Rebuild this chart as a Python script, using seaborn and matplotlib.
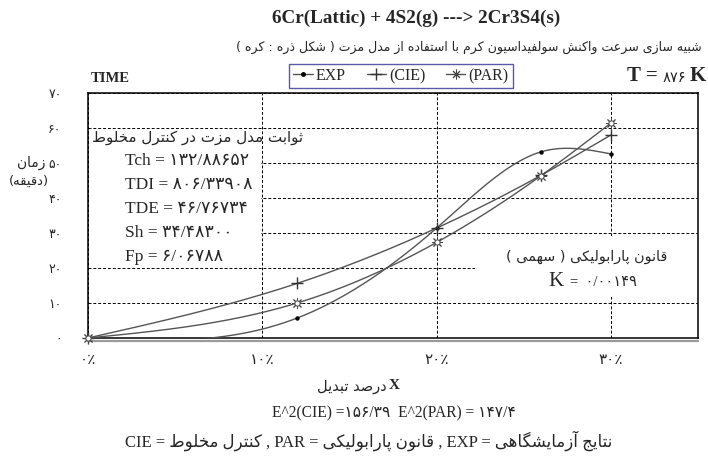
import numpy as np
import pandas as pd
import matplotlib
matplotlib.use("Agg")
import matplotlib.pyplot as plt
import seaborn as sns
from matplotlib.lines import Line2D
from matplotlib.patches import Rectangle

# ---------------- data ----------------
conv_pct = [0, 12, 20, 26, 30]                 # X  (conversion, %)
time_exp = [0, 5.7, 31.4, 53.2, 52.6]          # EXP  (minutes)
time_cie = [0, 15.6, 31.4, 46.5, 58.0]         # CIE  (minutes)
time_par = [0, 10.0, 27.3, 46.4, 61.4]         # PAR  (minutes)

y_ticks = [0, 10, 20, 30, 40, 50, 60, 70]
y_tick_labels = ["۰", "۱۰", "۲۰", "۳۰", "۴۰", "۵۰", "۶۰", "۷۰"]
x_ticks = [0, 10, 20, 30]
x_tick_labels = ["۰٪", "۱۰٪", "۲۰٪", "۳۰٪"]

mezat_names = ["Tch", "TDI", "TDE", "Sh", "Fp"]
mezat_values = ["۱۳۲/۸۸۶۵۲", "۸۰۶/۳۳۹۰۸", "۴۶/۷۶۷۳۴", "۳۴/۴۸۳۰۰", "۶/۰۶۷۸۸"]
k_value = "۰/۰۰۱۴۹"
temperature = "۸۷۶"
e2_cie = "۱۵۶/۳۹"
e2_par = "۱۴۷/۴"

title_txt = "6Cr(Lattic) + 4S2(g) ---> 2Cr3S4(s)"
subtitle_fa = "شبیه سازی سرعت واکنش سولفیداسیون کرم با استفاده از مدل مزت ( شکل ذره : کره )"
box_title_fa = "ثوابت مدل مزت در کنترل مخلوط"
par_title_fa = "قانون پارابولیکی ( سهمی )"
ylabel_fa = ["زمان", "(دقیقه)"]
xlabel_fa = "درصد تبدیل"
legend_fa = {"CIE": "کنترل مخلوط", "PAR": "قانون پارابولیکی", "EXP": "نتایج آزمایشگاهی"}

# ---------------- minimal Persian shaping (presentation forms) ----------------
FORMS = {
    "ا": (0xFE8D, 0xFE8E, None, None), "آ": (0xFE81, 0xFE82, None, None),
    "ب": (0xFE8F, 0xFE90, 0xFE91, 0xFE92), "پ": (0xFB56, 0xFB57, 0xFB58, 0xFB59),
    "ت": (0xFE95, 0xFE96, 0xFE97, 0xFE98), "ث": (0xFE99, 0xFE9A, 0xFE9B, 0xFE9C),
    "ج": (0xFE9D, 0xFE9E, 0xFE9F, 0xFEA0), "چ": (0xFB7A, 0xFB7B, 0xFB7C, 0xFB7D),
    "ح": (0xFEA1, 0xFEA2, 0xFEA3, 0xFEA4), "خ": (0xFEA5, 0xFEA6, 0xFEA7, 0xFEA8),
    "د": (0xFEA9, 0xFEAA, None, None), "ذ": (0xFEAB, 0xFEAC, None, None),
    "ر": (0xFEAD, 0xFEAE, None, None), "ز": (0xFEAF, 0xFEB0, None, None),
    "ژ": (0xFB8A, 0xFB8B, None, None),
    "س": (0xFEB1, 0xFEB2, 0xFEB3, 0xFEB4), "ش": (0xFEB5, 0xFEB6, 0xFEB7, 0xFEB8),
    "ص": (0xFEB9, 0xFEBA, 0xFEBB, 0xFEBC), "ض": (0xFEBD, 0xFEBE, 0xFEBF, 0xFEC0),
    "ط": (0xFEC1, 0xFEC2, 0xFEC3, 0xFEC4), "ظ": (0xFEC5, 0xFEC6, 0xFEC7, 0xFEC8),
    "ع": (0xFEC9, 0xFECA, 0xFECB, 0xFECC), "غ": (0xFECD, 0xFECE, 0xFECF, 0xFED0),
    "ف": (0xFED1, 0xFED2, 0xFED3, 0xFED4), "ق": (0xFED5, 0xFED6, 0xFED7, 0xFED8),
    "ک": (0xFB8E, 0xFB8F, 0xFB90, 0xFB91), "گ": (0xFB92, 0xFB93, 0xFB94, 0xFB95),
    "ل": (0xFEDD, 0xFEDE, 0xFEDF, 0xFEE0), "م": (0xFEE1, 0xFEE2, 0xFEE3, 0xFEE4),
    "ن": (0xFEE5, 0xFEE6, 0xFEE7, 0xFEE8), "و": (0xFEED, 0xFEEE, None, None),
    "ه": (0xFEE9, 0xFEEA, 0xFEEB, 0xFEEC), "ی": (0xFBFC, 0xFBFD, 0xFBFE, 0xFBFF),
}
MIRROR = {"(": ")", ")": "("}


def fa(s):
    out = []
    for i, c in enumerate(s):
        if c not in FORMS:
            out.append(c)
            continue
        prev = s[i - 1] if i > 0 else ""
        nxt = s[i + 1] if i + 1 < len(s) else ""
        jp = prev in FORMS and FORMS[prev][2] is not None
        jn = FORMS[c][2] is not None and nxt in FORMS
        iso, fin, ini, med = FORMS[c]
        g = med if (jp and jn) else fin if jp else ini if jn else iso
        out.append(chr(g))
    return "".join(MIRROR.get(c, c) for c in reversed(out))


def smooth(x, y, n=300):
    x = np.asarray(x, float); y = np.asarray(y, float)
    k = len(x); h = np.diff(x)
    A = np.zeros((k, k)); b = np.zeros(k)
    A[0, 0] = A[-1, -1] = 1
    for i in range(1, k - 1):
        A[i, i - 1] = h[i - 1]; A[i, i] = 2 * (h[i - 1] + h[i]); A[i, i + 1] = h[i]
        b[i] = 3 * ((y[i + 1] - y[i]) / h[i] - (y[i] - y[i - 1]) / h[i - 1])
    c = np.linalg.solve(A, b)
    bb = (y[1:] - y[:-1]) / h - h * (2 * c[:-1] + c[1:]) / 3
    d = (c[1:] - c[:-1]) / (3 * h)
    xs = np.linspace(x[0], x[-1], n)
    idx = np.clip(np.searchsorted(x, xs, side="right") - 1, 0, k - 2)
    dx = xs - x[idx]
    return xs, y[idx] + bb[idx] * dx + c[idx] * dx ** 2 + d[idx] * dx ** 3


# ---------------- figure ----------------
sns.set_style("white")
plt.rcParams["font.family"] = ["Liberation Serif", "DejaVu Sans"]
SERIF = ["Liberation Serif", "DejaVu Sans"]
FA = ["DejaVu Sans"]

W, H = 708, 461
fig = plt.figure(figsize=(W / 100, H / 100), dpi=100)
fig.patch.set_facecolor("white")
L, R, T, B = 88, 698, 93, 338
ax = fig.add_axes([L / W, 1 - B / H, (R - L) / W, (B - T) / H])


def P(x, y):
    return x / W, 1 - y / H


curve_col = "#555555"
frames = []
for name, vals in [("EXP", time_exp), ("CIE", time_cie), ("PAR", time_par)]:
    xs, ys = smooth(conv_pct, vals)
    frames.append(pd.DataFrame({"x": xs, "y": ys, "series": name}))
curves = pd.concat(frames, ignore_index=True)
sns.lineplot(data=curves, x="x", y="y", hue="series", units="series", estimator=None,
             sort=False, palette={"EXP": curve_col, "CIE": curve_col, "PAR": curve_col},
             linewidth=1.0, legend=False, ax=ax, zorder=3)

sns.scatterplot(x=conv_pct, y=time_exp, marker="o", s=10, color="black", linewidth=0,
                ax=ax, zorder=5, clip_on=False)
sns.scatterplot(x=conv_pct, y=time_cie, marker="+", s=70, color="#333333", linewidth=1.0,
                ax=ax, zorder=5, clip_on=False)
sns.scatterplot(x=conv_pct, y=time_par, marker=(8, 2, 0), s=55, color="#444444", linewidth=0.7,
                ax=ax, zorder=5, clip_on=False)
sns.scatterplot(x=conv_pct, y=time_par, marker="o", s=14, facecolor="white", edgecolor="#444444",
                linewidth=0.7, ax=ax, zorder=6, clip_on=False)

ax.set_xlim(0, 35)
ax.set_ylim(0, 70)
ax.set_xticks(x_ticks)
ax.set_xticklabels(x_tick_labels, fontfamily=FA, fontsize=11)
ax.set_yticks(y_ticks)
ax.set_yticklabels(y_tick_labels, fontfamily=FA, fontsize=9)
ax.tick_params(axis="both", length=0)
ax.tick_params(axis="x", pad=10)
ax.tick_params(axis="y", pad=19)
ax.set_xlabel("")
ax.set_ylabel("")
ax.set_axisbelow(True)
ax.grid(True, color="black", linestyle=(0, (3, 2)), linewidth=0.7)
for s in ax.spines.values():
    s.set_color("black")
    s.set_linewidth(1.1)
ax.axhline(-0.9, color="#9a9a9a", linewidth=1.6, clip_on=False, zorder=2)

# white panels that hide the grid behind the annotation blocks
ax.add_patch(Rectangle((0.05, 21.0), 9.85, 38.6, facecolor="white", edgecolor="none", zorder=1))
ax.add_patch(Rectangle((22.2, 11.8), 12.8, 17.2, facecolor="white", edgecolor="none", zorder=1))

renderer = fig.canvas.get_renderer()


def fit(t, width):
    bb = t.get_window_extent(renderer=renderer)
    t.set_fontsize(t.get_fontsize() * width / bb.width)
    return t


# titles
fig.text(*P(416, 18), title_txt, ha="center", va="center", fontsize=13.8,
         fontweight="bold", family=SERIF)
fit(fig.text(*P(702, 47), fa(subtitle_fa), ha="right", va="center", fontsize=11,
             family=FA), 465)
fig.text(*P(91, 78), "TIME", ha="left", va="center", fontsize=10.5, fontweight="bold",
         family=SERIF)
fig.text(*P(627, 76), "T =", ha="left", va="center", fontsize=15, fontweight="bold", family=SERIF)
fig.text(*P(663, 77), temperature, ha="left", va="center", fontsize=10.5, family=FA)
fig.text(*P(706, 76), "K", ha="right", va="center", fontsize=15, fontweight="bold", family=SERIF)

# legend
handles = [
    Line2D([], [], color=curve_col, lw=1.0, marker="o", markersize=2.5, markevery=[1],
           markerfacecolor="black", markeredgecolor="black"),
    Line2D([], [], color=curve_col, lw=1.0, marker="+", markersize=8, markevery=[1],
           markeredgecolor="#333333"),
    Line2D([], [], color=curve_col, lw=1.0, marker=(8, 2, 0), markersize=7, markevery=[1],
           markeredgecolor="#444444", markeredgewidth=0.7),
]
leg = fig.legend(handles, ["EXP", "(CIE)", "(PAR)"], loc="center", bbox_to_anchor=P(401, 76),
                 ncol=3, frameon=True, fancybox=False, edgecolor="#5a5aa8", framealpha=1,
                 handlelength=1.2, handletextpad=0.2, columnspacing=1.3, borderpad=0.25,
                 borderaxespad=0, prop={"family": SERIF, "size": 11.5})
leg.get_frame().set_linewidth(1.0)

# Mezat model constants block
fit(fig.text(*P(92, 137), fa(box_title_fa), ha="left", va="center", fontsize=11, family=FA), 211)
rows_y = [161, 185, 209, 233, 257]
for nm, val, yy in zip(mezat_names, mezat_values, rows_y):
    fig.text(*P(125, yy), nm + " = " + val, ha="left", va="center", fontsize=12.5, family=SERIF)

# parabolic law block
fit(fig.text(*P(587, 257), fa(par_title_fa), ha="center", va="center", fontsize=11,
             family=FA), 161)
fig.text(*P(548, 282), "K", ha="left", va="center", fontsize=15, family=SERIF)
fig.text(*P(570, 283), "=  " + k_value, ha="left", va="center", fontsize=10.5, family=SERIF)

# y label
fig.text(*P(31, 163), fa(ylabel_fa[0]), ha="center", va="center", fontsize=10, family=FA)
fig.text(*P(29, 181), fa(ylabel_fa[1]), ha="center", va="center", fontsize=9.5, family=FA)

# x label
fit(fig.text(*P(387, 386), fa(xlabel_fa), ha="right", va="center", fontsize=10, family=FA), 70)
fig.text(*P(389, 385), "X", ha="left", va="center", fontsize=11, fontweight="bold", family=SERIF)

# error line and abbreviations line
fit(fig.text(*P(394, 413), "E^2(CIE) =" + e2_cie + "  E^2(PAR) = " + e2_par, ha="center",
             va="center", fontsize=11, family=SERIF), 245)
bottom = ("CIE = " + fa(legend_fa["CIE"]) + " , PAR = " + fa(legend_fa["PAR"])
          + " , EXP = " + fa(legend_fa["EXP"]))
fit(fig.text(*P(369, 441), bottom, ha="center", va="center", fontsize=11, family=SERIF), 488)

fig.savefig("out.png", dpi=100, facecolor="white")
